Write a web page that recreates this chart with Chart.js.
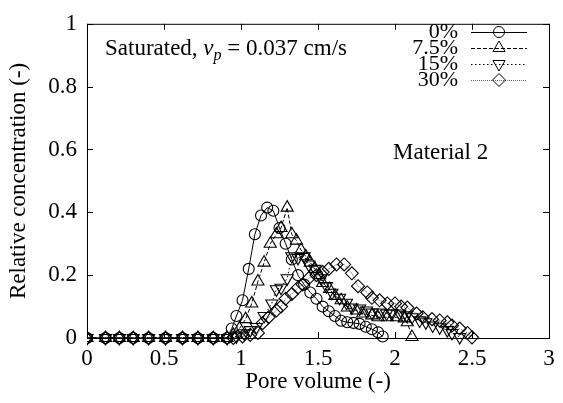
<!DOCTYPE html>
<html>
<head>
<meta charset="utf-8">
<script src="https://cdn.jsdelivr.net/npm/chart.js@4.4.0/dist/chart.umd.min.js"></script>
<style>
    html, body {margin: 0; padding: 0; background: #fff;}
    #wrap {width: 563px; height: 403px;}
</style>
</head>
<body>
<div id="wrap"><canvas id="chart"></canvas></div>
<script>
const seriesLabels = ["0%", "7.5%", "15%", "30%"];

const pv0 = [0, 0.12, 0.21, 0.3, 0.4, 0.51, 0.62, 0.72, 0.82, 0.91,
    0.94, 0.97, 1.01, 1.05, 1.09, 1.13, 1.17, 1.21, 1.25, 1.29, 1.33, 1.37, 1.41,
    1.45, 1.49, 1.53, 1.57, 1.61, 1.65, 1.69, 1.73, 1.77, 1.81, 1.85, 1.89, 1.92];
const conc0 = [0, 0, 0, 0, 0, 0, 0, 0, 0, 0,
    0.03, 0.07, 0.12, 0.22, 0.33, 0.39, 0.415, 0.405, 0.35, 0.30, 0.25, 0.20, 0.17,
    0.145, 0.125, 0.10, 0.085, 0.07, 0.055, 0.05, 0.048, 0.045, 0.036, 0.028, 0.018, 0.005];

const pv1 = [0, 0.12, 0.21, 0.3, 0.4, 0.51, 0.62, 0.72, 0.82, 0.91,
    0.95, 0.99, 1.03, 1.07, 1.11, 1.15, 1.19, 1.23, 1.26, 1.30, 1.33, 1.36, 1.39,
    1.42, 1.45, 1.48, 1.51, 1.53, 1.575, 1.61, 1.65, 1.69, 1.75, 1.79, 1.85, 1.89,
    1.95, 2.01, 2.06, 2.08, 2.11];
const conc1 = [0, 0, 0, 0, 0, 0, 0, 0, 0, 0,
    0.01, 0.03, 0.06, 0.11, 0.18, 0.24, 0.30, 0.33, 0.35, 0.415, 0.33, 0.31, 0.28,
    0.26, 0.24, 0.22, 0.20, 0.175, 0.156, 0.134, 0.12, 0.097, 0.0875, 0.078, 0.072, 0.066,
    0.066, 0.066, 0.0625, 0.05, 0.003];

const pv2 = [0, 0.12, 0.21, 0.3, 0.4, 0.51, 0.62, 0.72, 0.82, 0.91,
    0.97, 1.02, 1.06, 1.10, 1.15, 1.20, 1.23, 1.26, 1.30, 1.33, 1.37, 1.41, 1.44,
    1.48, 1.52, 1.555, 1.59, 1.64, 1.685, 1.72, 1.77, 1.815, 1.85, 1.90, 1.945, 1.98,
    2.03, 2.075, 2.11, 2.16, 2.20, 2.245, 2.29, 2.34, 2.37, 2.42];
const conc2 = [0, 0, 0, 0, 0, 0, 0, 0, 0, 0,
    0.005, 0.015, 0.025, 0.035, 0.07, 0.11, 0.155, 0.16, 0.19, 0.26, 0.255, 0.26, 0.234,
    0.22, 0.19, 0.165, 0.144, 0.128, 0.112, 0.097, 0.094, 0.0875, 0.081, 0.081, 0.078, 0.078,
    0.078, 0.072, 0.066, 0.056, 0.05, 0.04, 0.034, 0.025, 0.016, 0.003];

const pv3 = [0, 0.12, 0.21, 0.3, 0.4, 0.51, 0.62, 0.72, 0.82, 0.91,
    0.95, 1.01, 1.06, 1.11, 1.14, 1.18, 1.23, 1.26, 1.29, 1.33, 1.37, 1.40, 1.44,
    1.49, 1.53, 1.57, 1.62, 1.67, 1.72, 1.76, 1.82, 1.85, 1.90, 1.95, 2.00, 2.04,
    2.08, 2.14, 2.18, 2.24, 2.29, 2.34, 2.37, 2.42, 2.47, 2.50];
const conc3 = [0, 0, 0, 0, 0, 0, 0, 0, 0, 0,
    0, 0.005, 0.01, 0.016, 0.047, 0.066, 0.088, 0.10, 0.125, 0.14, 0.16, 0.17, 0.19,
    0.20, 0.21, 0.22, 0.234, 0.234, 0.206, 0.165, 0.145, 0.128, 0.12, 0.11, 0.11, 0.10,
    0.097, 0.078, 0.066, 0.06, 0.056, 0.05, 0.04, 0.03, 0.016, 0.002];

const xTicks = [0, 0.5, 1, 1.5, 2, 2.5, 3];
const yTicks = [0, 0.2, 0.4, 0.6, 0.8, 1];

const FONT = '"Liberation Serif", "Times New Roman", serif';

const toPoints = (xs, ys) => xs.map((x, i) => ({x: x, y: ys[i]}));

const styles = [
    {pointStyle: 'circle', radius: 5.5, rotation: 0, dash: [], color: '#000'},
    {pointStyle: 'triangle', radius: 7, rotation: 0, dash: [4, 2], color: '#000'},
    {pointStyle: 'triangle', radius: 7, rotation: 180, dash: [1.5, 2.5], color: '#000'},
    {pointStyle: 'rectRot', radius: 6.5, rotation: 0, dash: [1, 1], color: '#666'},
];

const allData = [[pv0, conc0], [pv1, conc1], [pv2, conc2], [pv3, conc3]];

const datasets = allData.map((d, i) => ({
    label: seriesLabels[i],
    data: toPoints(d[0], d[1]),
    showLine: true,
    borderColor: styles[i].color,
    borderWidth: 1,
    borderDash: styles[i].dash,
    pointStyle: styles[i].pointStyle,
    pointRotation: styles[i].rotation,
    pointRadius: styles[i].radius,
    pointBorderColor: '#000',
    pointBackgroundColor: 'rgba(0,0,0,0)',
    pointBorderWidth: 1.1,
    clip: {left: 0, top: 20, right: 20, bottom: 20},
}));

// frame with inward ticks, legend and the two text notes
const framePlugin = {
    id: 'frame',
    beforeDatasetsDraw(chart) {
        const {ctx, chartArea: a, scales} = chart;
        const tick = 6;
        ctx.save();
        ctx.strokeStyle = '#000';
        ctx.lineWidth = 1;
        ctx.strokeRect(a.left + 0.5, a.top + 0.5, a.right - a.left, a.bottom - a.top);
        ctx.beginPath();
        xTicks.forEach(v => {
            const px = Math.round(scales.x.getPixelForValue(v)) + 0.5;
            ctx.moveTo(px, a.bottom);
            ctx.lineTo(px, a.bottom - tick);
            ctx.moveTo(px, a.top);
            ctx.lineTo(px, a.top + tick);
        });
        yTicks.forEach(v => {
            const py = Math.round(scales.y.getPixelForValue(v)) + 0.5;
            ctx.moveTo(a.left, py);
            ctx.lineTo(a.left + tick, py);
            ctx.moveTo(a.right, py);
            ctx.lineTo(a.right - tick, py);
        });
        ctx.stroke();
        ctx.restore();
    },
    afterDraw(chart) {
        const {ctx} = chart;
        ctx.save();
        ctx.fillStyle = '#000';

        // legend
        const rows = [32, 48, 64, 80];
        chart.data.datasets.forEach((ds, i) => {
            const y = rows[i];
            ctx.font = '22px ' + FONT;
            ctx.textAlign = 'right';
            ctx.textBaseline = 'middle';
            ctx.fillStyle = '#000';
            ctx.fillText(ds.label, 458, y);
            ctx.strokeStyle = ds.borderColor;
            ctx.lineWidth = 1;
            ctx.setLineDash(ds.borderDash);
            ctx.beginPath();
            ctx.moveTo(471, y + 0.5);
            ctx.lineTo(527, y + 0.5);
            ctx.stroke();
            ctx.setLineDash([]);
            ctx.strokeStyle = '#000';
            ctx.fillStyle = 'rgba(0,0,0,0)';
            Chart.helpers.drawPoint(ctx, {
                pointStyle: ds.pointStyle,
                rotation: ds.pointRotation,
                radius: ds.pointRadius,
                borderWidth: 1,
            }, 499, y);
        });

        // annotation: Saturated, v_p = 0.037 cm/s
        ctx.fillStyle = '#000';
        ctx.textAlign = 'left';
        ctx.textBaseline = 'alphabetic';
        let x = 105;
        const base = 55;
        ctx.font = '23px ' + FONT;
        ctx.fillText('Saturated, ', x, base);
        x += ctx.measureText('Saturated, ').width;
        ctx.font = 'italic 23px ' + FONT;
        ctx.fillText('v', x, base);
        x += ctx.measureText('v').width;
        ctx.font = 'italic 16px ' + FONT;
        ctx.fillText('p', x, base + 5);
        x += ctx.measureText('p').width;
        ctx.font = '23px ' + FONT;
        ctx.fillText(' = 0.037 cm/s', x, base);

        ctx.font = '23px ' + FONT;
        ctx.fillText('Material 2', 393, 159);
        ctx.restore();
    }
};

const chartCanvas = document.getElementById('chart').getContext('2d');

new Chart(chartCanvas, {
    type: 'scatter',
    data: {datasets: datasets},
    options: {
        responsive: true,
        maintainAspectRatio: false,
        animation: false,
        devicePixelRatio: 1,
        layout: {padding: {top: 19, right: 14, left: 0, bottom: 0}},
        plugins: {
            legend: {display: false},
            tooltip: {enabled: false},
        },
        scales: {
            x: {
                type: 'linear',
                min: 0,
                max: 3,
                afterBuildTicks: scale => { scale.ticks = xTicks.map(v => ({value: v})); },
                afterFit: scale => { scale.height = 65; },
                grid: {display: false, drawTicks: false},
                border: {display: false},
                ticks: {
                    color: '#000',
                    padding: 7,
                    font: {family: FONT, size: 23},
                    callback: v => String(v),
                },
                title: {
                    display: true,
                    text: 'Pore volume (-)',
                    color: '#000',
                    font: {family: FONT, size: 23},
                    padding: {top: 0, bottom: 7},
                },
            },
            y: {
                type: 'linear',
                min: 0,
                max: 1,
                afterBuildTicks: scale => { scale.ticks = yTicks.map(v => ({value: v})); },
                afterFit: scale => { scale.width = 87; },
                grid: {display: false, drawTicks: false},
                border: {display: false},
                ticks: {
                    color: '#000',
                    padding: 10,
                    font: {family: FONT, size: 23},
                    callback: v => String(v),
                },
                title: {
                    display: true,
                    text: 'Relative concentration (-)',
                    color: '#000',
                    font: {family: FONT, size: 23},
                    padding: {top: 5, bottom: 0},
                },
            },
        },
    },
    plugins: [framePlugin],
});
</script>
</body>
</html>
